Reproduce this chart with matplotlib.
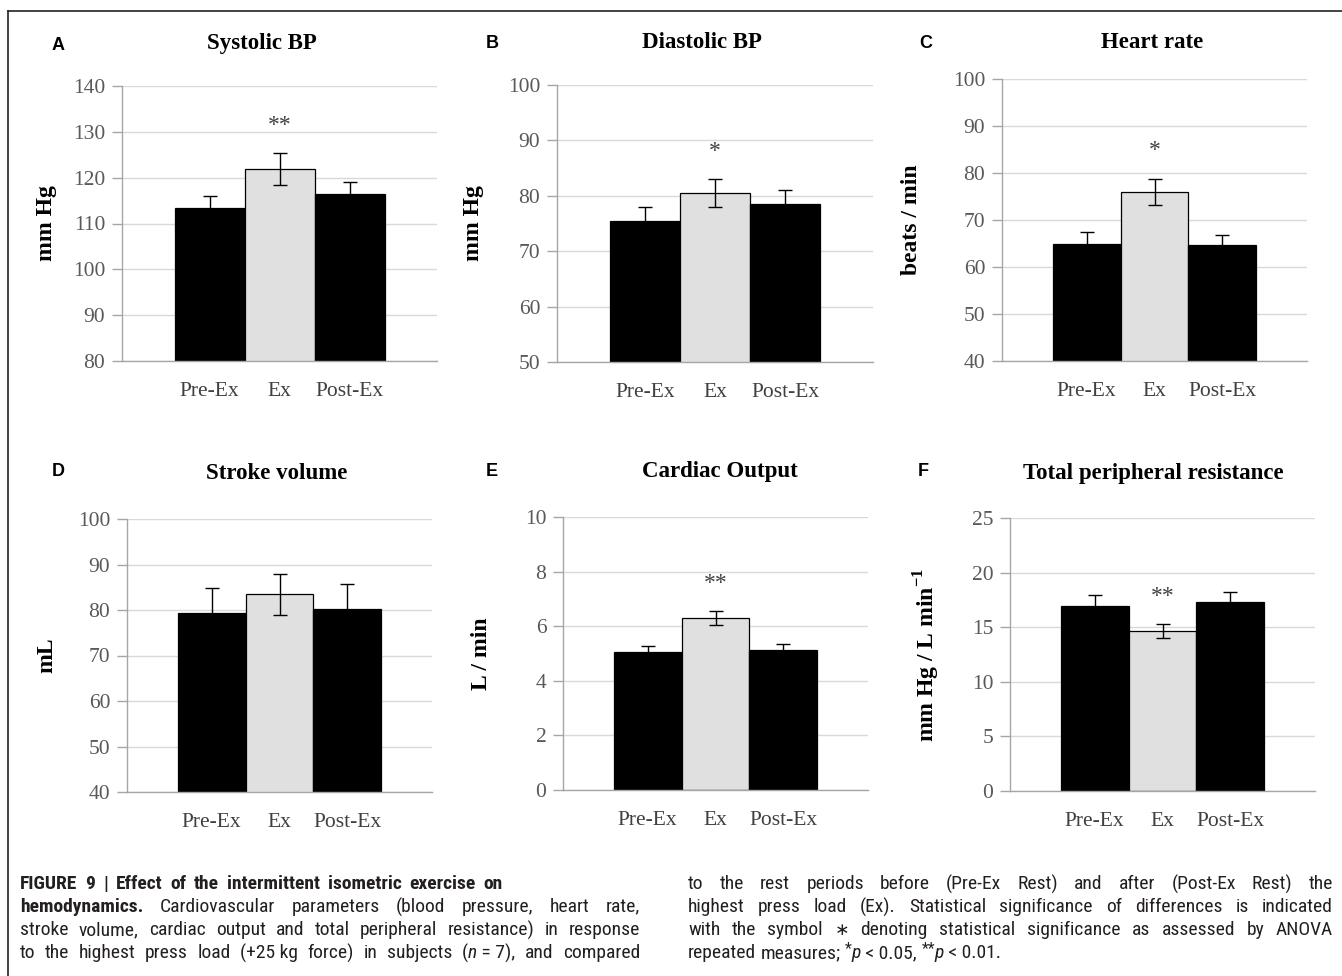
import numpy as np
import matplotlib
matplotlib.use("Agg")
import matplotlib.pyplot as plt
from matplotlib import font_manager
from matplotlib.ticker import MultipleLocator
from matplotlib.lines import Line2D

# ---- data ----
categories = ["Pre-Ex", "Ex", "Post-Ex"]

systolic = [113.3, 121.9, 116.5]
systolic_err = [2.8, 3.4, 2.6]
diastolic = [75.5, 80.5, 78.6]
diastolic_err = [2.4, 2.5, 2.5]
heart_rate = [64.9, 76.0, 64.6]
heart_rate_err = [2.5, 2.8, 2.2]
stroke_volume = [79.4, 83.5, 80.3]
stroke_volume_err = [5.4, 4.5, 5.5]
cardiac_output = [5.07, 6.29, 5.12]
cardiac_output_err = [0.21, 0.26, 0.21]
resistance = [16.96, 14.64, 17.27]
resistance_err = [0.95, 0.66, 0.95]

significance = ["**", "*", "*", "", "**", "**"]

W, H = 1342, 976
SERIF = "Liberation Serif"
names = {f.name for f in font_manager.fontManager.ttflist}
CAP_FONT = "Liberation Sans"
for cand in ("Liberation Sans Narrow", "DejaVu Sans Condensed", "Roboto Condensed", "Roboto"):
    if cand in names:
        CAP_FONT = cand
        break

plt.rcParams["mathtext.fontset"] = "custom"
plt.rcParams["mathtext.rm"] = SERIF
plt.rcParams["mathtext.bf"] = SERIF + ":bold"

fig = plt.figure(figsize=(W / 100, H / 100), dpi=100)


def px(x, y):
    return x / W, 1 - y / H


def box(l, t, r, b):
    return [l / W, 1 - b / H, (r - l) / W, (b - t) / H]


# frame lines (top and left)
fig.add_artist(Line2D([8 / W, 1], [1 - 11 / H] * 2, color="#222222", lw=1.2))
fig.add_artist(Line2D([8 / W] * 2, [0, 1 - 11 / H], color="#222222", lw=1.2))

panels = [
    # letter, title, ylabel, values, errors, ylim, step, axes box, letter xy, title xy, ylabel x
    ("A", "Systolic BP", "mm Hg", systolic, systolic_err, (80, 140), 10,
     (122, 86, 437, 361), (58, 45), (262, 44), 57),
    ("B", "Diastolic BP", "mm Hg", diastolic, diastolic_err, (50, 100), 10,
     (557, 85, 873, 362), (492, 44), (702, 42), 484),
    ("C", "Heart rate", "beats / min", heart_rate, heart_rate_err, (40, 100), 10,
     (1002, 79, 1307, 361), (926, 44), (1152, 42), 922),
    ("D", "Stroke volume", "mL", stroke_volume, stroke_volume_err, (40, 100), 10,
     (127, 519, 432, 792), (58, 472), (277, 473), 57),
    ("E", "Cardiac Output", "L / min", cardiac_output, cardiac_output_err, (0, 10), 2,
     (563, 517, 868, 790), (492, 472), (720, 472), 492),
    ("F", "Total peripheral resistance", r"mm Hg / L min$^{\mathbf{-1}}$", resistance,
     resistance_err, (0, 25), 5,
     (1010, 518, 1315, 791), (923, 472), (1153, 473), 942),
]

bar_colors = ["black", "#e0e0e0", "black"]
x = np.arange(len(categories))

for i, (letter, title, ylab, vals, errs, ylim, step, bx, lxy, txy, ylx) in enumerate(panels):
    ax = fig.add_axes(box(*bx))
    ax.bar(x, vals, width=1.0, color=bar_colors, edgecolor="black", linewidth=0.9, zorder=2)
    ax.errorbar(x, vals, yerr=errs, fmt="none", ecolor="black", elinewidth=1.0,
                capsize=5, capthick=1.0, zorder=3)
    ax.set_xlim(-1.25, 3.25)
    ax.set_ylim(*ylim)
    ax.yaxis.set_major_locator(MultipleLocator(step))
    ax.set_xticks(x)
    ax.set_xticklabels(categories, fontfamily=SERIF, fontsize=15.5, color="#404040")
    for lab in ax.get_yticklabels():
        lab.set_fontfamily(SERIF)
    ax.tick_params(axis="y", length=7, width=1, color="#a6a6a6", labelsize=15.5,
                   labelcolor="#595959", pad=5)
    ax.tick_params(axis="x", length=0, pad=15)
    ax.set_axisbelow(True)
    ax.yaxis.grid(True, color="#d9d9d9", lw=1.0)
    for s in ("top", "right"):
        ax.spines[s].set_visible(False)
    for s in ("left", "bottom"):
        ax.spines[s].set_color("#a6a6a6")
        ax.spines[s].set_linewidth(1.0)
    ax.patch.set_alpha(0)

    ax.set_ylabel(ylab, fontfamily=SERIF, fontweight="bold", fontsize=17, color="black")
    ax.yaxis.set_label_coords((ylx - bx[0]) / (bx[2] - bx[0]), 0.5)

    if significance[i]:
        ax.annotate(significance[i], (1, vals[1] + errs[1]), xytext=(0, 20),
                    textcoords="offset points", ha="center", va="center",
                    fontfamily=SERIF, fontsize=17, color="#404040")

    fig.text(*px(*txy), title, ha="center", va="center", fontfamily=SERIF,
             fontweight="bold", fontsize=16.5)
    fig.text(*px(*lxy), letter, ha="center", va="center", fontfamily="Liberation Sans",
             fontweight="bold", fontsize=13)

# ---- caption (justified lines) ----
caption_left = [
    [("FIGURE 9 | Effect of the intermittent isometric exercise on", "b")],
    [("hemodynamics.", "b"), (" Cardiovascular parameters (blood pressure, heart rate,", "n")],
    [("stroke volume, cardiac output and total peripheral resistance) in response", "n")],
    [("to the highest press load (+25\u00a0kg force) in subjects (", "n"), ("n", "i"),
     ("\u00a0=\u00a07), and compared", "n")],
]
caption_right = [
    [("to the rest periods before (Pre-Ex Rest) and after (Post-Ex Rest) the", "n")],
    [("highest press load (Ex). Statistical significance of differences is indicated", "n")],
    [("with the symbol ", "n"), ("\u2217", "m"),
     (" denoting statistical significance as assessed by ANOVA", "n")],
    [("repeated measures; ", "n"), ("*", "s"), ("p", "i"), ("\u00a0<\u00a00.05, ", "n"),
     ("**", "s"), ("p", "i"), ("\u00a0<\u00a00.01.", "n")],
]
line_y = [884, 907, 930, 953]
left_span = [(20, 503), (20, 640), (20, 640), (20, 640)]
right_span = [(688, 1333)] * 4
right_just = [True, True, True, False]

renderer = fig.canvas.get_renderer()


def props(st, size):
    p = dict(fontfamily=CAP_FONT, fontsize=size, color="#231f20")
    if st == "b":
        p["fontweight"] = "bold"
    elif st == "i":
        p["fontstyle"] = "italic"
    elif st == "m":
        p["fontfamily"] = "DejaVu Sans"
        p["fontsize"] = size * 0.9
    elif st == "s":
        p["fontsize"] = size * 0.8
    return p


def words_of(runs):
    words = [[]]
    for txt, st in runs:
        for k, part in enumerate(txt.split(" ")):
            if k > 0:
                words.append([])
            if part:
                words[-1].append((part, st))
    return [w for w in words if w]


def measure(txt, st, size):
    t = fig.text(0, 0, txt, **props(st, size))
    w = t.get_window_extent(renderer).width
    t.remove()
    return w


def layout(runs, size):
    words = words_of(runs)
    widths = [[measure(p, st, size) for p, st in w] for w in words]
    space = measure("a a", "n", size) - measure("aa", "n", size)
    return words, widths, space


def natural(runs, size):
    words, widths, space = layout(runs, size)
    return sum(sum(w) for w in widths) + 0.9 * space * (len(words) - 1)


# largest caption size that lets every line fit its column
all_lines = list(zip(caption_left, left_span)) + list(zip(caption_right, right_span))
cap_size = 14.0
while cap_size > 8 and any(natural(r, cap_size) > s[1] - s[0] for r, s in all_lines):
    cap_size -= 0.25


def draw_line(runs, x0, x1, y, justify=True):
    words, widths, space = layout(runs, cap_size)
    total = sum(sum(w) for w in widths)
    gap = (x1 - x0 - total) / (len(words) - 1) if justify and len(words) > 1 else space
    xc = x0
    for w, ws in zip(words, widths):
        for (p, st), pw in zip(w, ws):
            dy = -4 if st == "s" else 0
            fig.text(*px(xc, y + dy), p, ha="left", va="center", **props(st, cap_size))
            xc += pw
        xc += gap


for runs, y, (x0, x1) in zip(caption_left, line_y, left_span):
    draw_line(runs, x0, x1, y)
for runs, y, (x0, x1), j in zip(caption_right, line_y, right_span, right_just):
    draw_line(runs, x0, x1, y, justify=j)

fig.savefig("out.png", dpi=100)
